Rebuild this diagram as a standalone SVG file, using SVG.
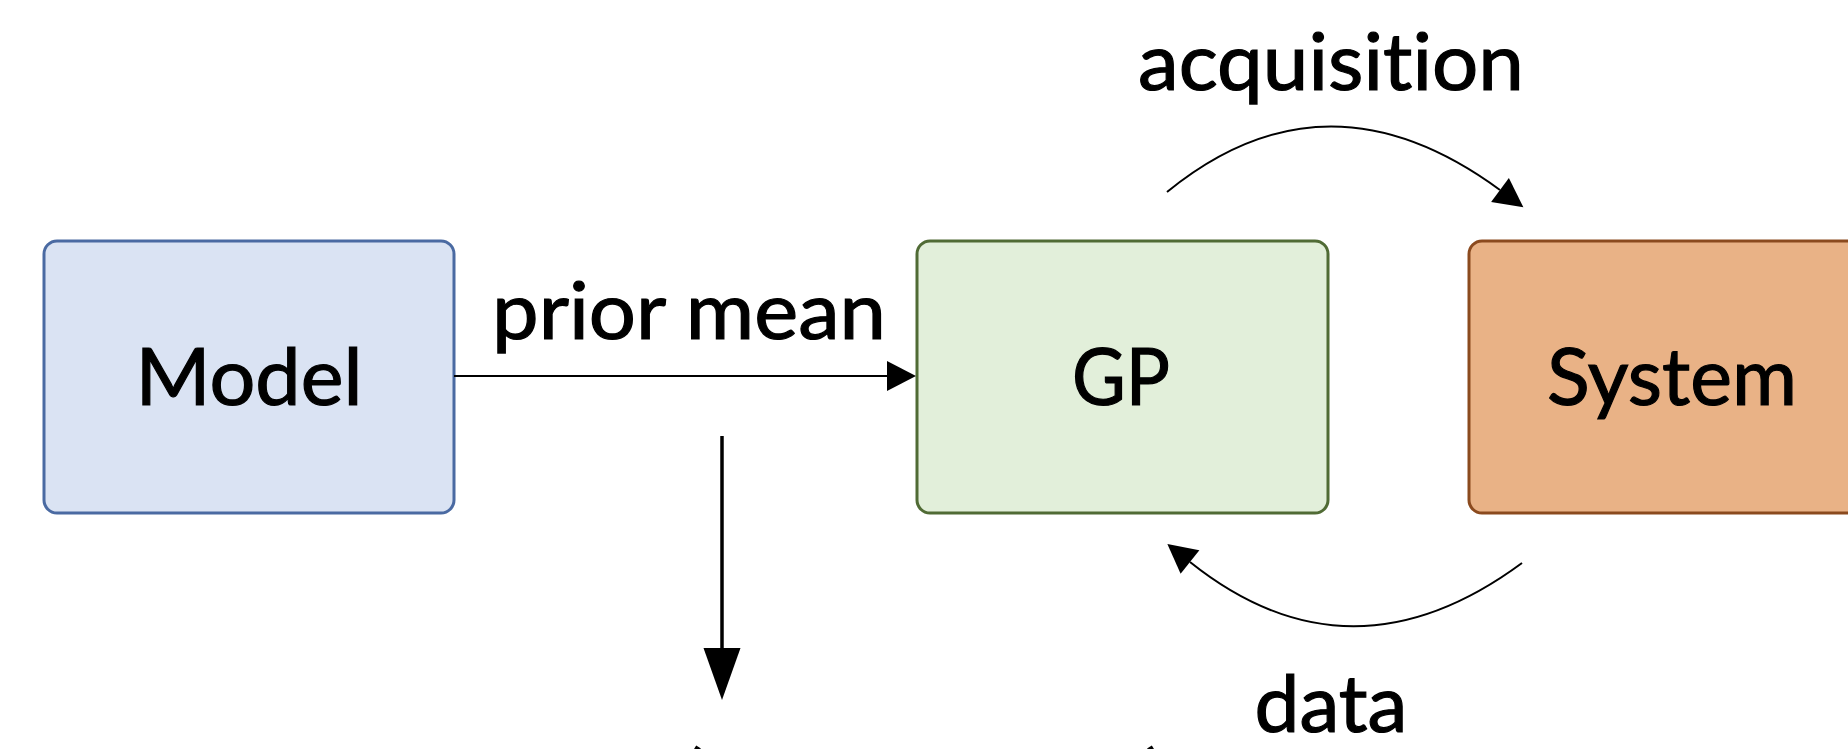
<svg xmlns="http://www.w3.org/2000/svg" width="1848" height="749" viewBox="0 0 1848 749">
  <style>
    .lbl { font-family: Lato, "Liberation Sans", sans-serif; font-size: 80px; fill: #000; stroke: #000; stroke-width: 1.2px; text-anchor: middle; font-variant-ligatures: none; font-feature-settings: "liga" 0; }
    .box { stroke-width: 3; }
    .thin { fill: none; stroke: #000; stroke-width: 2; }
  </style>
  <defs>
    <marker id="ahSmall" markerUnits="userSpaceOnUse" markerWidth="30" markerHeight="30" refX="0" refY="15" orient="auto" overflow="visible">
      <path d="M0,0 L29,15 L0,30 z" fill="#000"/>
    </marker>
    <marker id="ahBig" markerUnits="userSpaceOnUse" markerWidth="52" markerHeight="37" refX="0" refY="18.5" orient="auto" overflow="visible">
      <path d="M0,0 L52,18.5 L0,37 z" fill="#000"/>
    </marker>
  </defs>
  <rect width="1848" height="749" fill="#fff"/>

  <g id="model">
    <rect class="box" x="44" y="241" width="410" height="272" rx="13" fill="#dae3f3" stroke="#4a6aa2"/>
    <text class="lbl" x="249" y="405" textLength="227" lengthAdjust="spacingAndGlyphs">Model</text>
  </g>
  <g id="gp">
    <rect class="box" x="917" y="241" width="411" height="272" rx="13" fill="#e2efda" stroke="#506b35"/>
    <text class="lbl" x="1121" y="405" textLength="98" lengthAdjust="spacingAndGlyphs">GP</text>
  </g>
  <g id="system">
    <rect class="box" x="1469" y="241" width="411" height="272" rx="13" fill="#e9b286" stroke="#8b4a1e"/>
    <text class="lbl" x="1672" y="405" textLength="250" lengthAdjust="spacingAndGlyphs">System</text>
  </g>

  <g id="connectors">
    <line class="thin" x1="454" y1="376" x2="887" y2="376" marker-end="url(#ahSmall)"/>
    <line x1="722" y1="436" x2="722" y2="648" stroke="#000" stroke-width="3.5" marker-end="url(#ahBig)"/>
    <path class="thin" d="M1167,192 Q1326,62 1500,190" marker-end="url(#ahSmall)"/>
    <path class="thin" d="M1522,563 Q1350,690 1190,562" marker-end="url(#ahSmall)"/>
  </g>

  <g id="labels">
    <text class="lbl" x="689" y="339" textLength="394" lengthAdjust="spacingAndGlyphs">prior mean</text>
    <text class="lbl" x="1331" y="90" textLength="386" lengthAdjust="spacingAndGlyphs">acquisition</text>
    <text class="lbl" x="1331" y="732" textLength="153" lengthAdjust="spacingAndGlyphs">data</text>
    <text class="lbl" style="text-anchor:start" x="283" y="808" textLength="380" lengthAdjust="spacingAndGlyphs">Hybrid model</text>
    <text class="lbl" style="text-anchor:start" x="682" y="808" textLength="484" lengthAdjust="spacingAndGlyphs">(physics + GP)</text>
  </g>
</svg>
